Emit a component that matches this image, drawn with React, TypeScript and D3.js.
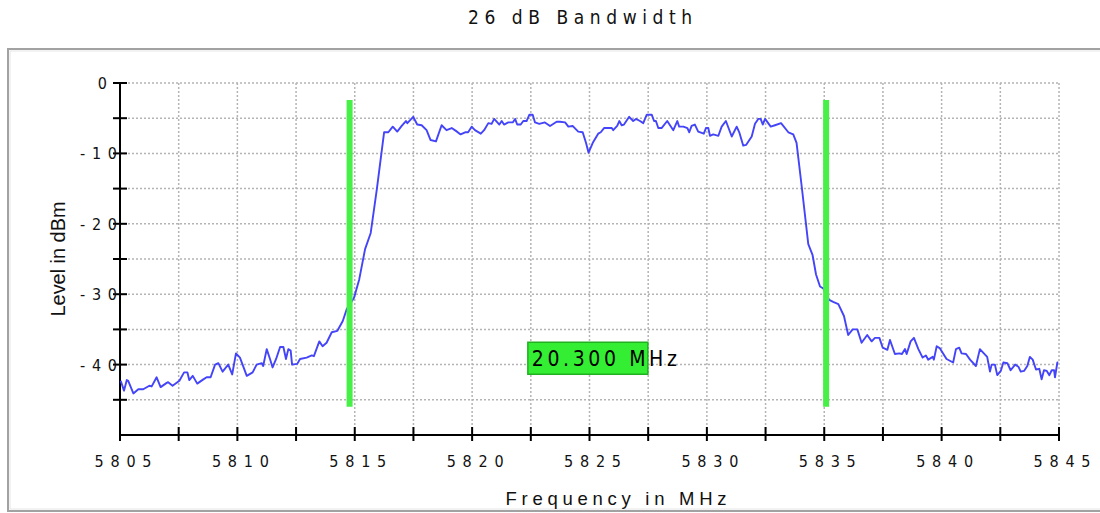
import React from "react";
import * as d3 from "d3";

const chartTitle = "26 dB Bandwidth";
const xTitle = "Frequency in MHz";
const yTitle = "Level in dBm";
const xTickValues = [5805, 5810, 5815, 5820, 5825, 5830, 5835, 5840, 5845];
const xMinorTicks = [5807.5, 5812.5, 5817.5, 5822.5, 5827.5, 5832.5, 5837.5, 5842.5];
const yTickValues = [0, -10, -20, -30, -40];
const yMinorTicks = [-5, -15, -25, -35, -45];
const markerFreqs = [5814.78, 5835.08];
const markerLevels = [-2.4, -46.0];
const bandwidthLabel = "20.300 MHz";
const labelLevel = -39.1;

const freqMHz = [
  5805.03, 5805.17, 5805.29, 5805.35, 5805.57, 5805.78, 5805.99, 5806.25, 5806.35, 5806.56,
  5806.73, 5806.99, 5807.05, 5807.24, 5807.53, 5807.73, 5807.87, 5807.95, 5808.10, 5808.29,
  5808.55, 5808.69, 5808.86, 5809.05, 5809.19, 5809.37, 5809.61, 5809.78, 5809.94, 5810.11,
  5810.40, 5810.65, 5810.82, 5811.04, 5811.10, 5811.25, 5811.39, 5811.50, 5811.65, 5811.82,
  5811.96, 5812.07, 5812.17, 5812.27, 5812.33, 5812.55, 5812.67, 5812.95, 5813.17, 5813.26,
  5813.49, 5813.63, 5813.80, 5814.02, 5814.26, 5814.49, 5814.66, 5814.97, 5815.19, 5815.44,
  5815.68, 5815.94, 5816.25, 5816.43, 5816.62, 5816.81, 5817.00, 5817.18, 5817.24, 5817.49,
  5817.66, 5817.85, 5818.06, 5818.23, 5818.46, 5818.70, 5818.91, 5819.13, 5819.31, 5819.51,
  5819.70, 5819.83, 5819.98, 5820.12, 5820.37, 5820.51, 5820.69, 5820.83, 5820.94, 5821.16,
  5821.26, 5821.36, 5821.54, 5821.73, 5821.83, 5821.92, 5822.07, 5822.18, 5822.32, 5822.44,
  5822.58, 5822.68, 5822.86, 5823.10, 5823.32, 5823.60, 5823.74, 5823.96, 5824.10, 5824.28,
  5824.52, 5824.71, 5824.85, 5824.96, 5825.14, 5825.37, 5825.48, 5825.62, 5825.95, 5826.01,
  5826.18, 5826.27, 5826.37, 5826.47, 5826.69, 5826.86, 5826.98, 5827.15, 5827.29, 5827.44,
  5827.65, 5827.75, 5827.83, 5827.93, 5828.07, 5828.31, 5828.57, 5828.74, 5828.82, 5829.00,
  5829.17, 5829.25, 5829.35, 5829.49, 5829.63, 5829.87, 5829.96, 5830.06, 5830.13, 5830.27,
  5830.49, 5830.63, 5830.81, 5831.06, 5831.27, 5831.38, 5831.55, 5831.67, 5831.91, 5832.05,
  5832.19, 5832.29, 5832.38, 5832.48, 5832.72, 5832.90, 5833.16, 5833.47, 5833.68, 5833.82,
  5834.04, 5834.32, 5834.50, 5834.65, 5834.82, 5834.96, 5835.21, 5835.38, 5835.60, 5835.84,
  5836.02, 5836.21, 5836.41, 5836.59, 5836.83, 5837.02, 5837.16, 5837.35, 5837.49, 5837.69,
  5837.80, 5838.01, 5838.20, 5838.31, 5838.44, 5838.51, 5838.68, 5838.82, 5839.01, 5839.19,
  5839.33, 5839.43, 5839.62, 5839.67, 5839.79, 5839.93, 5840.21, 5840.49, 5840.61, 5840.75,
  5840.85, 5841.04, 5841.21, 5841.46, 5841.63, 5841.80, 5841.94, 5842.06, 5842.13, 5842.27,
  5842.37, 5842.52, 5842.63, 5842.80, 5842.94, 5843.13, 5843.27, 5843.37, 5843.51, 5843.65,
  5843.76, 5843.88, 5844.02, 5844.16, 5844.26, 5844.36, 5844.48, 5844.59, 5844.69, 5844.79,
  5844.83, 5844.93, 5844.97,
];

const levelDbm = [
  -42.3, -43.7, -42.2, -42.3, -44.1, -43.5, -43.5, -43.0, -43.1, -41.8,
  -43.2, -42.6, -42.5, -43.0, -42.3, -41.1, -41.1, -42.2, -41.6, -42.7,
  -42.1, -41.8, -41.8, -40.0, -39.8, -41.0, -40.0, -41.4, -38.4, -39.0,
  -41.6, -41.1, -40.0, -39.8, -40.2, -37.8, -39.2, -40.4, -39.2, -37.5,
  -37.5, -39.2, -37.8, -38.0, -40.0, -39.9, -39.2, -39.0, -38.7, -38.8,
  -36.7, -37.4, -36.9, -35.4, -35.2, -33.8, -32.1, -30.5, -27.9, -23.6,
  -21.3, -15.1, -7.0, -7.0, -6.2, -6.9, -6.1, -5.4, -5.7, -4.8,
  -5.9, -6.0, -6.7, -8.1, -8.3, -6.0, -6.7, -6.4, -6.8, -7.3,
  -7.0, -7.0, -6.2, -6.7, -7.2, -6.7, -5.7, -5.8, -5.1, -5.9,
  -5.4, -5.9, -5.6, -5.6, -5.1, -5.9, -5.9, -5.4, -5.4, -4.5,
  -4.5, -5.6, -5.8, -5.6, -6.1, -5.5, -5.5, -5.6, -6.2, -6.1,
  -6.9, -7.0, -8.5, -9.9, -8.5, -7.2, -7.0, -6.4, -6.4, -6.7,
  -6.1, -5.4, -6.0, -5.9, -4.8, -5.4, -5.1, -5.4, -5.7, -4.5,
  -4.5, -5.4, -5.4, -6.4, -6.4, -5.4, -6.7, -5.4, -6.2, -6.2,
  -6.4, -7.0, -6.1, -5.9, -6.9, -7.2, -6.4, -6.4, -7.5, -7.3,
  -7.5, -6.2, -5.4, -7.6, -6.2, -7.0, -8.9, -8.8, -7.6, -5.8,
  -5.1, -5.1, -5.9, -5.1, -6.2, -6.0, -5.7, -7.0, -7.3, -8.5,
  -14.7, -22.9, -24.4, -27.2, -28.9, -29.2, -30.8, -31.1, -31.4, -33.1,
  -35.8, -35.0, -35.0, -36.9, -35.8, -36.7, -36.2, -36.2, -37.6, -37.9,
  -36.5, -38.5, -38.4, -38.5, -37.8, -38.5, -36.7, -36.2, -37.8, -39.0,
  -38.7, -39.3, -38.9, -39.3, -37.4, -37.7, -39.2, -39.7, -37.8, -37.6,
  -38.4, -38.5, -39.3, -40.2, -37.8, -38.4, -38.9, -41.0, -40.0, -40.0,
  -41.5, -40.9, -39.7, -39.8, -40.8, -40.0, -40.3, -41.0, -40.9, -40.2,
  -38.9, -39.3, -40.7, -40.6, -42.1, -40.8, -40.9, -41.5, -40.8, -40.8,
  -41.8, -39.7, -39.7,
];

const W = 1100;
const H = 513;
const narrowFont = "'Liberation Sans Narrow', 'DejaVu Sans Condensed', 'Liberation Sans', sans-serif";
const sansFont = "'Liberation Sans', Arial, sans-serif";

export default function App() {
  const x = d3.scaleLinear().domain([5805, 5845]).range([120, 1059]);
  const y = d3.scaleLinear().domain([-50, 0]).range([435, 83]);
  const pts = freqMHz.map((f, i) => [f, levelDbm[i]] as [number, number]);
  const line = d3
    .line<[number, number]>()
    .x((d) => x(d[0]))
    .y((d) => y(d[1]));
  const [x0, x1] = x.range();
  const [yb, yt] = y.range();
  const allX = [...xTickValues, ...xMinorTicks].sort((a, b) => a - b);
  const allY = [...yTickValues, ...yMinorTicks];
  const boxCx = x((markerFreqs[0] + markerFreqs[1]) / 2);
  const boxCy = y(labelLevel);

  return (
    <svg
      width={W}
      height={H}
      style={{ position: "absolute", left: 0, top: 0, background: "#fff" }}
    >
      {/* frame */}
      <rect x={8} y={49} width={W} height={462} fill="none" stroke="#a2a2a2" strokeWidth={2} />
      <rect x={10} y={51} width={W} height={458} fill="none" stroke="#e6e6e6" strokeWidth={1} />

      {/* title */}
      <text
        x={580}
        y={24}
        textAnchor="middle"
        fontFamily={narrowFont}
        fontSize={19}
        textLength={224}
        lengthAdjust="spacing"
        fill="#111"
      >
        {chartTitle}
      </text>

      {/* grid */}
      <g stroke="#b4b4b4" strokeWidth={1.5} strokeDasharray="2 2">
        {allX.filter((v) => v !== 5805).map((v) => (
          <line key={"gx" + v} x1={x(v)} x2={x(v)} y1={yt} y2={yb} />
        ))}
        {allY.map((v) => (
          <line key={"gy" + v} x1={x0} x2={x1} y1={y(v)} y2={y(v)} />
        ))}
      </g>

      {/* axes */}
      <g stroke="#000" strokeWidth={2}>
        <line x1={x0} x2={x0} y1={yt} y2={yb + 1} />
        <line x1={x0 - 1} x2={x1} y1={yb} y2={yb} />
        {allX.map((v) => (
          <line key={"tx" + v} x1={x(v)} x2={x(v)} y1={yb - 8} y2={yb + 6} />
        ))}
        {allY.map((v) => (
          <line key={"ty" + v} x1={x0 - 7} x2={x0 + 7} y1={y(v)} y2={y(v)} />
        ))}
      </g>

      {/* x tick labels */}
      {xTickValues.map((v) => (
        <text
          key={"lx" + v}
          x={x(v) + 3}
          y={467}
          textAnchor="middle"
          fontFamily={narrowFont}
          fontSize={16}
          textLength={57}
          lengthAdjust="spacing"
          fill="#111"
        >
          {String(v)}
        </text>
      ))}

      {/* y tick labels */}
      {yTickValues.map((v) => {
        const s = String(v);
        return (
          <text
            key={"ly" + v}
            x={v === 0 ? 107 : 117}
            y={y(v) + 6}
            textAnchor="end"
            fontFamily={narrowFont}
            fontSize={16}
            textLength={s.length === 1 ? 9 : 37}
            lengthAdjust="spacing"
            fill="#111"
          >
            {s}
          </text>
        );
      })}

      {/* axis titles */}
      <text
        x={616}
        y={505}
        textAnchor="middle"
        fontFamily={sansFont}
        fontSize={18.5}
        textLength={221}
        lengthAdjust="spacing"
        fill="#111"
      >
        {xTitle}
      </text>
      <text
        transform={`translate(65, 259) rotate(-90)`}
        textAnchor="middle"
        fontFamily={sansFont}
        fontSize={20}
        textLength={115}
        lengthAdjust="spacingAndGlyphs"
        fill="#111"
      >
        {yTitle}
      </text>

      {/* trace */}
      <path d={line(pts) || ""} fill="none" stroke="#4444f8" strokeWidth={1.9} strokeLinejoin="round" />

      {/* markers */}
      {markerFreqs.map((f) => (
        <line
          key={"m" + f}
          x1={x(f)}
          x2={x(f)}
          y1={y(markerLevels[0])}
          y2={y(markerLevels[1])}
          stroke="#46f046"
          strokeWidth={6}
        />
      ))}

      {/* bandwidth label */}
      <rect
        x={boxCx - 60}
        y={boxCy - 16}
        width={120}
        height={32}
        fill="#33ee33"
        stroke="#22b022"
        strokeWidth={1.5}
      />
      <text
        x={boxCx - 56}
        y={boxCy + 8}
        fontFamily={narrowFont}
        fontSize={21}
        textLength={145}
        lengthAdjust="spacing"
        fill="#000"
      >
        {bandwidthLabel}
      </text>
    </svg>
  );
}
